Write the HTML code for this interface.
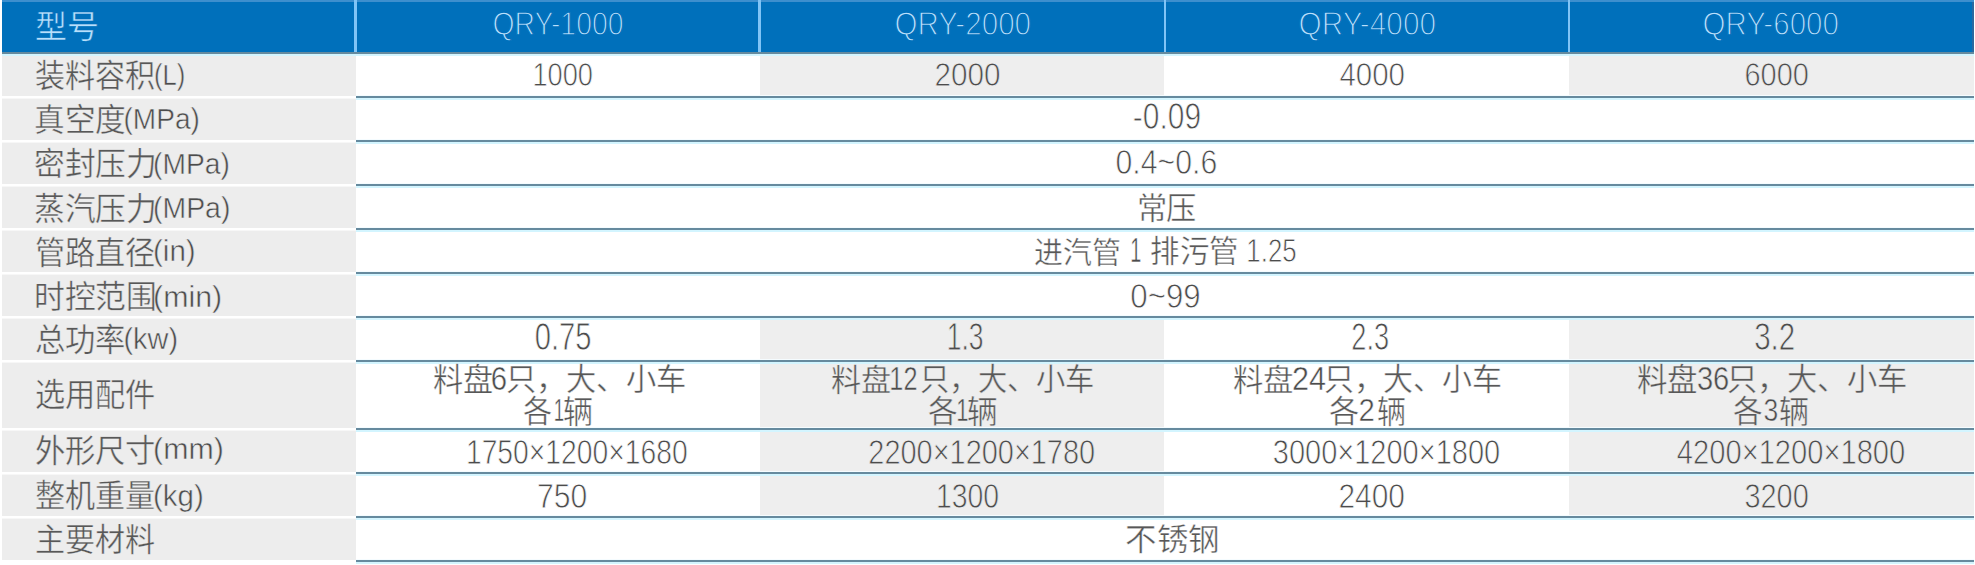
<!DOCTYPE html><html lang="zh-CN"><head><meta charset="utf-8"><style>html,body{margin:0;padding:0;width:1975px;height:565px;overflow:hidden;background:#fff}.a{position:absolute}</style></head><body><div class="a" style="left:2px;top:54px;width:354px;height:506px;background:#ededed"></div><div class="a" style="left:760px;top:54px;width:404px;height:42px;background:#eeeeee"></div><div class="a" style="left:1569px;top:54px;width:405px;height:42px;background:#eeeeee"></div><div class="a" style="left:760px;top:318px;width:404px;height:42px;background:#eeeeee"></div><div class="a" style="left:1569px;top:318px;width:405px;height:42px;background:#eeeeee"></div><div class="a" style="left:760px;top:362px;width:404px;height:66px;background:#eeeeee"></div><div class="a" style="left:1569px;top:362px;width:405px;height:66px;background:#eeeeee"></div><div class="a" style="left:760px;top:430px;width:404px;height:42px;background:#eeeeee"></div><div class="a" style="left:1569px;top:430px;width:405px;height:42px;background:#eeeeee"></div><div class="a" style="left:760px;top:474px;width:404px;height:42px;background:#eeeeee"></div><div class="a" style="left:1569px;top:474px;width:405px;height:42px;background:#eeeeee"></div><div class="a" style="left:2px;top:0px;width:1972px;height:52px;background:#0070bb"></div><div class="a" style="left:2px;top:0px;width:1972px;height:2px;background:#3d8fce"></div><div class="a" style="left:1972px;top:2px;width:2px;height:50px;background:#2a69a0"></div><div class="a" style="left:354px;top:0px;width:3px;height:52px;background:#80c4f6"></div><div class="a" style="left:758px;top:0px;width:3px;height:52px;background:#80c4f6"></div><div class="a" style="left:1164px;top:0px;width:2px;height:52px;background:#80c4f6"></div><div class="a" style="left:1568px;top:0px;width:2px;height:52px;background:#80c4f6"></div><div class="a" style="left:2px;top:52px;width:1972px;height:2px;background:#668a9e"></div><div class="a" style="left:2px;top:54px;width:1972px;height:2px;background:#d3f5ff"></div><div class="a" style="left:356px;top:95px;width:1618px;height:1px;background:#f5fcff"></div><div class="a" style="left:356px;top:96px;width:1618px;height:2px;background:#668a9e"></div><div class="a" style="left:356px;top:98px;width:1618px;height:2px;background:#d3f5ff"></div><div class="a" style="left:2px;top:96px;width:354px;height:2px;background:#ffffff"></div><div class="a" style="left:2px;top:98px;width:354px;height:1px;background:#f7f7f7"></div><div class="a" style="left:356px;top:139px;width:1618px;height:1px;background:#f5fcff"></div><div class="a" style="left:356px;top:140px;width:1618px;height:2px;background:#668a9e"></div><div class="a" style="left:356px;top:142px;width:1618px;height:2px;background:#d3f5ff"></div><div class="a" style="left:2px;top:140px;width:354px;height:2px;background:#ffffff"></div><div class="a" style="left:2px;top:142px;width:354px;height:1px;background:#f7f7f7"></div><div class="a" style="left:356px;top:183px;width:1618px;height:1px;background:#f5fcff"></div><div class="a" style="left:356px;top:184px;width:1618px;height:2px;background:#668a9e"></div><div class="a" style="left:356px;top:186px;width:1618px;height:2px;background:#d3f5ff"></div><div class="a" style="left:2px;top:184px;width:354px;height:2px;background:#ffffff"></div><div class="a" style="left:2px;top:186px;width:354px;height:1px;background:#f7f7f7"></div><div class="a" style="left:356px;top:227px;width:1618px;height:1px;background:#f5fcff"></div><div class="a" style="left:356px;top:228px;width:1618px;height:2px;background:#668a9e"></div><div class="a" style="left:356px;top:230px;width:1618px;height:2px;background:#d3f5ff"></div><div class="a" style="left:2px;top:228px;width:354px;height:2px;background:#ffffff"></div><div class="a" style="left:2px;top:230px;width:354px;height:1px;background:#f7f7f7"></div><div class="a" style="left:356px;top:271px;width:1618px;height:1px;background:#f5fcff"></div><div class="a" style="left:356px;top:272px;width:1618px;height:2px;background:#668a9e"></div><div class="a" style="left:356px;top:274px;width:1618px;height:2px;background:#d3f5ff"></div><div class="a" style="left:2px;top:272px;width:354px;height:2px;background:#ffffff"></div><div class="a" style="left:2px;top:274px;width:354px;height:1px;background:#f7f7f7"></div><div class="a" style="left:356px;top:315px;width:1618px;height:1px;background:#f5fcff"></div><div class="a" style="left:356px;top:316px;width:1618px;height:2px;background:#668a9e"></div><div class="a" style="left:356px;top:318px;width:1618px;height:2px;background:#d3f5ff"></div><div class="a" style="left:2px;top:316px;width:354px;height:2px;background:#ffffff"></div><div class="a" style="left:2px;top:318px;width:354px;height:1px;background:#f7f7f7"></div><div class="a" style="left:356px;top:359px;width:1618px;height:1px;background:#f5fcff"></div><div class="a" style="left:356px;top:360px;width:1618px;height:2px;background:#668a9e"></div><div class="a" style="left:356px;top:362px;width:1618px;height:2px;background:#d3f5ff"></div><div class="a" style="left:2px;top:360px;width:354px;height:2px;background:#ffffff"></div><div class="a" style="left:2px;top:362px;width:354px;height:1px;background:#f7f7f7"></div><div class="a" style="left:356px;top:427px;width:1618px;height:1px;background:#f5fcff"></div><div class="a" style="left:356px;top:428px;width:1618px;height:2px;background:#668a9e"></div><div class="a" style="left:356px;top:430px;width:1618px;height:2px;background:#d3f5ff"></div><div class="a" style="left:2px;top:428px;width:354px;height:2px;background:#ffffff"></div><div class="a" style="left:2px;top:430px;width:354px;height:1px;background:#f7f7f7"></div><div class="a" style="left:356px;top:471px;width:1618px;height:1px;background:#f5fcff"></div><div class="a" style="left:356px;top:472px;width:1618px;height:2px;background:#668a9e"></div><div class="a" style="left:356px;top:474px;width:1618px;height:2px;background:#d3f5ff"></div><div class="a" style="left:2px;top:472px;width:354px;height:2px;background:#ffffff"></div><div class="a" style="left:2px;top:474px;width:354px;height:1px;background:#f7f7f7"></div><div class="a" style="left:356px;top:515px;width:1618px;height:1px;background:#f5fcff"></div><div class="a" style="left:356px;top:516px;width:1618px;height:2px;background:#668a9e"></div><div class="a" style="left:356px;top:518px;width:1618px;height:2px;background:#d3f5ff"></div><div class="a" style="left:2px;top:516px;width:354px;height:2px;background:#ffffff"></div><div class="a" style="left:2px;top:518px;width:354px;height:1px;background:#f7f7f7"></div><div class="a" style="left:356px;top:559px;width:1618px;height:1px;background:#f5fcff"></div><div class="a" style="left:356px;top:560px;width:1618px;height:2px;background:#668a9e"></div><div class="a" style="left:356px;top:562px;width:1618px;height:2px;background:#d3f5ff"></div><svg class="a" style="left:0;top:0" width="1975" height="565" font-family="Liberation Sans, sans-serif"><text x="35.39" y="38.33" font-size="31.39" textLength="63.24" lengthAdjust="spacingAndGlyphs" fill="#b8e0fc" stroke="#0070bb" stroke-width="0.50">型号</text><text x="492.44" y="35.34" font-size="34.00" textLength="131.13" lengthAdjust="spacingAndGlyphs" fill="#b8e0fc" stroke="#0070bb" stroke-width="1.30">QRY-1000</text><text x="894.44" y="35.34" font-size="34.00" textLength="136.63" lengthAdjust="spacingAndGlyphs" fill="#b8e0fc" stroke="#0070bb" stroke-width="1.30">QRY-2000</text><text x="1298.44" y="35.34" font-size="34.00" textLength="137.65" lengthAdjust="spacingAndGlyphs" fill="#b8e0fc" stroke="#0070bb" stroke-width="1.30">QRY-4000</text><text x="1702.44" y="35.34" font-size="34.00" textLength="136.57" lengthAdjust="spacingAndGlyphs" fill="#b8e0fc" stroke="#0070bb" stroke-width="1.30">QRY-6000</text><text x="35.42" y="87.36" font-size="31.39" textLength="118.86" lengthAdjust="spacingAndGlyphs" fill="#585858" stroke="#ededed" stroke-width="0.40">装料容积</text><text x="154.01" y="84.56" font-size="29.74" textLength="31.32" lengthAdjust="spacingAndGlyphs" fill="#4c4c4c" stroke="#ededed" stroke-width="0.50">(L)</text><text x="34.45" y="131.34" font-size="31.39" textLength="90.96" lengthAdjust="spacingAndGlyphs" fill="#585858" stroke="#ededed" stroke-width="0.40">真空度</text><text x="123.56" y="128.76" font-size="29.74" textLength="76.25" lengthAdjust="spacingAndGlyphs" fill="#4c4c4c" stroke="#ededed" stroke-width="0.50">(MPa)</text><text x="34.44" y="175.36" font-size="31.39" textLength="121.75" lengthAdjust="spacingAndGlyphs" fill="#585858" stroke="#ededed" stroke-width="0.40">密封压力</text><text x="153.07" y="173.59" font-size="29.74" textLength="76.74" lengthAdjust="spacingAndGlyphs" fill="#4c4c4c" stroke="#ededed" stroke-width="0.50">(MPa)</text><text x="34.44" y="219.86" font-size="31.39" textLength="121.75" lengthAdjust="spacingAndGlyphs" fill="#585858" stroke="#ededed" stroke-width="0.40">蒸汽压力</text><text x="153.08" y="218.06" font-size="29.74" textLength="77.29" lengthAdjust="spacingAndGlyphs" fill="#4c4c4c" stroke="#ededed" stroke-width="0.50">(MPa)</text><text x="35.41" y="263.86" font-size="31.39" textLength="118.86" lengthAdjust="spacingAndGlyphs" fill="#585858" stroke="#ededed" stroke-width="0.40">管路直径</text><text x="153.01" y="261.11" font-size="29.74" textLength="42.67" lengthAdjust="spacingAndGlyphs" fill="#4c4c4c" stroke="#ededed" stroke-width="0.50">(in)</text><text x="34.44" y="308.36" font-size="31.39" textLength="121.80" lengthAdjust="spacingAndGlyphs" fill="#585858" stroke="#ededed" stroke-width="0.40">时控范围</text><text x="153.06" y="306.59" font-size="29.74" textLength="69.16" lengthAdjust="spacingAndGlyphs" fill="#4c4c4c" stroke="#ededed" stroke-width="0.50">(min)</text><text x="35.47" y="351.33" font-size="31.39" textLength="89.93" lengthAdjust="spacingAndGlyphs" fill="#585858" stroke="#ededed" stroke-width="0.40">总功率</text><text x="123.51" y="348.69" font-size="29.74" textLength="54.58" lengthAdjust="spacingAndGlyphs" fill="#4c4c4c" stroke="#ededed" stroke-width="0.50">(kw)</text><text x="35.47" y="406.36" font-size="31.39" textLength="119.30" lengthAdjust="spacingAndGlyphs" fill="#585858" stroke="#ededed" stroke-width="0.40">选用配件</text><text x="35.41" y="461.86" font-size="31.39" textLength="119.87" lengthAdjust="spacingAndGlyphs" fill="#585858" stroke="#ededed" stroke-width="0.40">外形尺寸</text><text x="153.08" y="459.11" font-size="29.74" textLength="70.79" lengthAdjust="spacingAndGlyphs" fill="#4c4c4c" stroke="#ededed" stroke-width="0.50">(mm)</text><text x="35.42" y="507.36" font-size="31.39" textLength="118.86" lengthAdjust="spacingAndGlyphs" fill="#585858" stroke="#ededed" stroke-width="0.40">整机重量</text><text x="153.01" y="505.59" font-size="29.74" textLength="50.76" lengthAdjust="spacingAndGlyphs" fill="#4c4c4c" stroke="#ededed" stroke-width="0.50">(kg)</text><text x="35.47" y="551.33" font-size="31.39" textLength="118.78" lengthAdjust="spacingAndGlyphs" fill="#585858" stroke="#ededed" stroke-width="0.40">主要材料</text><text x="532.42" y="86.17" font-size="34.09" textLength="60.55" lengthAdjust="spacingAndGlyphs" fill="#4c4c4c" stroke="#ffffff" stroke-width="0.80">1000</text><text x="934.44" y="86.17" font-size="34.09" textLength="66.03" lengthAdjust="spacingAndGlyphs" fill="#4c4c4c" stroke="#eeeeee" stroke-width="0.80">2000</text><text x="1339.41" y="86.17" font-size="34.09" textLength="65.57" lengthAdjust="spacingAndGlyphs" fill="#4c4c4c" stroke="#ffffff" stroke-width="0.80">4000</text><text x="1744.45" y="86.17" font-size="34.09" textLength="64.39" lengthAdjust="spacingAndGlyphs" fill="#4c4c4c" stroke="#eeeeee" stroke-width="0.80">6000</text><text x="1132.86" y="128.66" font-size="36.26" textLength="68.20" lengthAdjust="spacingAndGlyphs" fill="#4c4c4c" stroke="#ffffff" stroke-width="0.80">-0.09</text><text x="1115.40" y="173.65" font-size="34.78" textLength="101.83" lengthAdjust="spacingAndGlyphs" fill="#4c4c4c" stroke="#ffffff" stroke-width="0.80">0.4~0.6</text><text x="1136.50" y="218.97" font-size="30.29" textLength="59.97" lengthAdjust="spacingAndGlyphs" fill="#585858" stroke="#ffffff" stroke-width="0.40">常压</text><text x="1033.51" y="263.04" font-size="29.73" textLength="87.68" lengthAdjust="spacingAndGlyphs" fill="#585858" stroke="#ffffff" stroke-width="0.40">进汽管</text><text x="1130.15" y="262.16" font-size="34.81" textLength="11.03" lengthAdjust="spacingAndGlyphs" fill="#4c4c4c" stroke="#ffffff" stroke-width="0.50">1</text><text x="1149.95" y="262.41" font-size="30.83" textLength="88.87" lengthAdjust="spacingAndGlyphs" fill="#585858" stroke="#ffffff" stroke-width="0.40">排污管</text><text x="1246.37" y="261.66" font-size="34.06" textLength="50.31" lengthAdjust="spacingAndGlyphs" fill="#4c4c4c" stroke="#ffffff" stroke-width="0.80">1.25</text><text x="1130.36" y="307.69" font-size="34.78" textLength="70.35" lengthAdjust="spacingAndGlyphs" fill="#4c4c4c" stroke="#ffffff" stroke-width="0.80">0~99</text><text x="534.74" y="349.65" font-size="38.51" textLength="56.76" lengthAdjust="spacingAndGlyphs" fill="#4c4c4c" stroke="#ffffff" stroke-width="0.80">0.75</text><text x="946.69" y="349.65" font-size="38.51" textLength="36.73" lengthAdjust="spacingAndGlyphs" fill="#4c4c4c" stroke="#eeeeee" stroke-width="0.80">1.3</text><text x="1351.25" y="349.65" font-size="38.51" textLength="37.84" lengthAdjust="spacingAndGlyphs" fill="#4c4c4c" stroke="#ffffff" stroke-width="0.80">2.3</text><text x="1754.21" y="349.65" font-size="38.51" textLength="41.05" lengthAdjust="spacingAndGlyphs" fill="#4c4c4c" stroke="#eeeeee" stroke-width="0.80">3.2</text><text x="433.43" y="390.86" font-size="31.42" textLength="59.52" lengthAdjust="spacingAndGlyphs" fill="#585858" stroke="#ffffff" stroke-width="0.40">料盘</text><text x="490.75" y="389.69" font-size="33.37" textLength="16.37" lengthAdjust="spacingAndGlyphs" fill="#4c4c4c" stroke="#ffffff" stroke-width="0.50">6</text><text x="506.47" y="390.03" font-size="30.41" textLength="179.36" lengthAdjust="spacingAndGlyphs" fill="#585858" stroke="#ffffff" stroke-width="0.40">只，大、小车</text><text x="523.37" y="421.97" font-size="30.91" textLength="29.18" lengthAdjust="spacingAndGlyphs" fill="#585858" stroke="#ffffff" stroke-width="0.40">各</text><text x="553.86" y="421.20" font-size="31.45" textLength="10.40" lengthAdjust="spacingAndGlyphs" fill="#4c4c4c" stroke="#ffffff" stroke-width="0.50">1</text><text x="563.38" y="422.81" font-size="31.90" textLength="30.26" lengthAdjust="spacingAndGlyphs" fill="#585858" stroke="#ffffff" stroke-width="0.40">辆</text><text x="831.40" y="390.96" font-size="30.37" textLength="59.57" lengthAdjust="spacingAndGlyphs" fill="#585858" stroke="#eeeeee" stroke-width="0.40">料盘</text><text x="889.34" y="389.69" font-size="33.37" textLength="28.11" lengthAdjust="spacingAndGlyphs" fill="#4c4c4c" stroke="#eeeeee" stroke-width="0.50">12</text><text x="920.46" y="390.03" font-size="30.41" textLength="173.46" lengthAdjust="spacingAndGlyphs" fill="#585858" stroke="#eeeeee" stroke-width="0.40">只，大、小车</text><text x="927.87" y="421.97" font-size="30.91" textLength="29.72" lengthAdjust="spacingAndGlyphs" fill="#585858" stroke="#eeeeee" stroke-width="0.40">各</text><text x="956.22" y="421.20" font-size="31.45" textLength="12.23" lengthAdjust="spacingAndGlyphs" fill="#4c4c4c" stroke="#eeeeee" stroke-width="0.50">1</text><text x="967.35" y="422.81" font-size="31.90" textLength="30.80" lengthAdjust="spacingAndGlyphs" fill="#585858" stroke="#eeeeee" stroke-width="0.40">辆</text><text x="1232.90" y="390.96" font-size="30.37" textLength="60.04" lengthAdjust="spacingAndGlyphs" fill="#585858" stroke="#ffffff" stroke-width="0.40">料盘</text><text x="1291.92" y="389.69" font-size="33.37" textLength="34.05" lengthAdjust="spacingAndGlyphs" fill="#4c4c4c" stroke="#ffffff" stroke-width="0.50">24</text><text x="1323.99" y="390.03" font-size="30.41" textLength="177.67" lengthAdjust="spacingAndGlyphs" fill="#585858" stroke="#ffffff" stroke-width="0.40">只，大、小车</text><text x="1329.36" y="421.97" font-size="30.91" textLength="30.26" lengthAdjust="spacingAndGlyphs" fill="#585858" stroke="#ffffff" stroke-width="0.40">各</text><text x="1358.42" y="421.20" font-size="31.45" textLength="16.34" lengthAdjust="spacingAndGlyphs" fill="#4c4c4c" stroke="#ffffff" stroke-width="0.50">2</text><text x="1377.34" y="422.81" font-size="31.90" textLength="29.18" lengthAdjust="spacingAndGlyphs" fill="#585858" stroke="#ffffff" stroke-width="0.40">辆</text><text x="1636.89" y="390.86" font-size="31.42" textLength="60.04" lengthAdjust="spacingAndGlyphs" fill="#585858" stroke="#eeeeee" stroke-width="0.40">料盘</text><text x="1696.88" y="389.69" font-size="33.37" textLength="32.42" lengthAdjust="spacingAndGlyphs" fill="#4c4c4c" stroke="#eeeeee" stroke-width="0.50">36</text><text x="1727.45" y="390.03" font-size="30.41" textLength="179.31" lengthAdjust="spacingAndGlyphs" fill="#585858" stroke="#eeeeee" stroke-width="0.40">只，大、小车</text><text x="1733.37" y="421.97" font-size="30.91" textLength="29.72" lengthAdjust="spacingAndGlyphs" fill="#585858" stroke="#eeeeee" stroke-width="0.40">各</text><text x="1763.41" y="421.20" font-size="31.45" textLength="14.74" lengthAdjust="spacingAndGlyphs" fill="#4c4c4c" stroke="#eeeeee" stroke-width="0.50">3</text><text x="1779.35" y="422.81" font-size="31.90" textLength="30.24" lengthAdjust="spacingAndGlyphs" fill="#585858" stroke="#eeeeee" stroke-width="0.40">辆</text><text x="465.93" y="463.65" font-size="34.81" textLength="221.69" lengthAdjust="spacingAndGlyphs" fill="#4c4c4c" stroke="#ffffff" stroke-width="0.80">1750×1200×1680</text><text x="868.36" y="463.65" font-size="34.81" textLength="226.74" lengthAdjust="spacingAndGlyphs" fill="#4c4c4c" stroke="#eeeeee" stroke-width="0.80">2200×1200×1780</text><text x="1272.84" y="463.65" font-size="34.81" textLength="227.31" lengthAdjust="spacingAndGlyphs" fill="#4c4c4c" stroke="#ffffff" stroke-width="0.80">3000×1200×1800</text><text x="1676.85" y="463.65" font-size="34.81" textLength="228.40" lengthAdjust="spacingAndGlyphs" fill="#4c4c4c" stroke="#eeeeee" stroke-width="0.80">4200×1200×1800</text><text x="536.90" y="507.69" font-size="34.82" textLength="50.27" lengthAdjust="spacingAndGlyphs" fill="#4c4c4c" stroke="#ffffff" stroke-width="0.80">750</text><text x="935.90" y="507.69" font-size="34.82" textLength="63.24" lengthAdjust="spacingAndGlyphs" fill="#4c4c4c" stroke="#eeeeee" stroke-width="0.80">1300</text><text x="1338.42" y="507.69" font-size="34.82" textLength="66.50" lengthAdjust="spacingAndGlyphs" fill="#4c4c4c" stroke="#ffffff" stroke-width="0.80">2400</text><text x="1744.40" y="507.69" font-size="34.82" textLength="64.44" lengthAdjust="spacingAndGlyphs" fill="#4c4c4c" stroke="#eeeeee" stroke-width="0.80">3200</text><text x="1125.39" y="549.96" font-size="30.91" textLength="94.60" lengthAdjust="spacingAndGlyphs" fill="#585858" stroke="#ffffff" stroke-width="0.40">不锈钢</text></svg></body></html>
